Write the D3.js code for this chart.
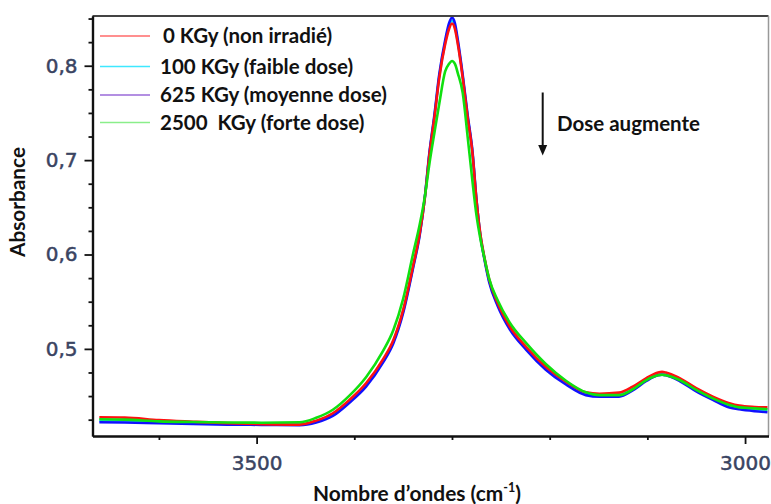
<!DOCTYPE html>
<html><head><meta charset="utf-8">
<script src="https://cdn.jsdelivr.net/npm/d3@7"></script>
<style>html,body{margin:0;padding:0;background:#fff;} svg{display:block;}</style>
</head><body>
<svg id="chart" width="771" height="504"></svg>
<script>
// ---- data ----
const wavenumbers = [3661,3635,3600,3565,3530,3495,3456,3439,3422,3405,3388,3371,3360,3350,3340,3333,3328,3323,3318,3313,3307,3303,3300,3297,3294,3289,3284,3279,3275,3271,3267,3262,3253,3241,3224,3204,3183,3163,3149,3129,3115,3101,3089,3085,3081,3067,3050,3033,3016,3006,2990,2977];
const dose0 =    [0.4275,0.4272,0.4245,0.4228,0.4213,0.4203,0.4198,0.4240,0.4318,0.4460,0.4636,0.4883,0.5095,0.5414,0.5873,0.6227,0.6580,0.7068,0.7449,0.7873,0.8227,0.8390,0.8447,0.8390,0.8227,0.7870,0.7449,0.7068,0.6580,0.6220,0.5980,0.5740,0.5480,0.5240,0.5020,0.4810,0.4650,0.4540,0.4525,0.4537,0.4600,0.4690,0.4750,0.4756,0.4750,0.4690,0.4583,0.4494,0.4424,0.4399,0.4385,0.4380];
const dose100 =  [0.4245,0.4242,0.4228,0.4215,0.4205,0.4200,0.4196,0.4232,0.4305,0.4445,0.4620,0.4870,0.5080,0.5400,0.5860,0.6220,0.6585,0.7075,0.7460,0.7890,0.8245,0.8420,0.8480,0.8420,0.8245,0.7885,0.7460,0.7075,0.6585,0.6210,0.5970,0.5725,0.5465,0.5225,0.5005,0.4795,0.4635,0.4525,0.4510,0.4515,0.4580,0.4675,0.4735,0.4740,0.4735,0.4675,0.4565,0.4478,0.4400,0.4380,0.4362,0.4355];
const dose625 =  [0.4222,0.4220,0.4212,0.4205,0.4198,0.4195,0.4192,0.4220,0.4290,0.4430,0.4600,0.4850,0.5060,0.5380,0.5850,0.6210,0.6590,0.7090,0.7480,0.7910,0.8270,0.8450,0.8510,0.8450,0.8270,0.7900,0.7480,0.7090,0.6590,0.6200,0.5960,0.5710,0.5450,0.5210,0.4990,0.4780,0.4620,0.4510,0.4494,0.4494,0.4560,0.4660,0.4720,0.4726,0.4720,0.4660,0.4550,0.4460,0.4380,0.4360,0.4340,0.4329];
const dose2500 = [0.4254,0.4250,0.4232,0.4225,0.4220,0.4218,0.4222,0.4270,0.4355,0.4505,0.4700,0.4970,0.5200,0.5530,0.6000,0.6320,0.6600,0.6970,0.7290,0.7600,0.7940,0.8020,0.8050,0.8020,0.7920,0.7710,0.7250,0.6770,0.6420,0.6170,0.5970,0.5745,0.5510,0.5280,0.5060,0.4840,0.4660,0.4540,0.4510,0.4510,0.4570,0.4670,0.4720,0.4726,0.4720,0.4670,0.4565,0.4475,0.4405,0.4380,0.4370,0.4360];
const seriesNames = ["0 KGy (non irradié)", "100 KGy (faible dose)", "625 KGy (moyenne dose)", "2500  KGy (forte dose)"];
const lineColors = ["#ff1010", "#00e5ff", "#1010ff", "#10e010"];
const legendColors = ["#ff6a6a", "#3ee8ff", "#9a6ad8", "#8aee8a"];
const yTicks = [0.5, 0.6, 0.7, 0.8];
const yTickLabels = ["0,5", "0,6", "0,7", "0,8"];
const yMinorTicks = [0.425, 0.45, 0.475, 0.525, 0.55, 0.575, 0.625, 0.65, 0.675, 0.725, 0.75, 0.775, 0.825, 0.85];
const xTicks = [3500, 3000];
const xTickLabels = ["3500", "3000"];
const xMinorTicks = [3600, 3400, 3300, 3200, 3100];
const annotation = "Dose augmente";
const yTitle = "Absorbance";
const xTitle = "Nombre d\u2019ondes (cm";
const xTitleSup = "-1";

// ---- layout ----
const L = 92.5, R = 768.5, T = 16, B = 436;
const svg = d3.select("#chart");
const x = d3.scaleLinear().domain([3668, 2976]).range([L, R]);
const y = d3.scaleLinear().domain([0.4077, 0.8527]).range([B, T]);

svg.append("defs").append("clipPath").attr("id", "clip")
  .append("rect").attr("x", L).attr("y", T).attr("width", R - L).attr("height", B - T);

// curves (draw order: cyan, blue, red, green)
const series = [dose0, dose100, dose625, dose2500];
const line = d3.line().x((d, i) => x(wavenumbers[i])).y(d => y(d)).curve(d3.curveMonotoneX);
const g = svg.append("g").attr("clip-path", "url(#clip)");
[1, 2, 0, 3].forEach(k => {
  g.append("path").attr("d", line(series[k])).attr("fill", "none")
    .attr("stroke", lineColors[k]).attr("stroke-width", 2.6).attr("stroke-linejoin", "round");
});

// frame
svg.append("line").attr("x1", L).attr("x2", R).attr("y1", T).attr("y2", T).attr("stroke", "#444").attr("stroke-width", 2);
svg.append("line").attr("x1", R).attr("x2", R).attr("y1", T).attr("y2", B).attr("stroke", "#999").attr("stroke-width", 1.5);

// axes
const tickColor = "#3a4462";
const yAxis = svg.append("g").attr("transform", `translate(${L},0)`)
  .call(d3.axisLeft(y).tickValues(yTicks).tickFormat((d, i) => yTickLabels[i]).tickSize(8).tickPadding(7).tickSizeOuter(0));
const yMinor = svg.append("g").attr("transform", `translate(${L},0)`)
  .call(d3.axisLeft(y).tickValues(yMinorTicks).tickFormat("").tickSize(4).tickSizeOuter(0));
const xAxis = svg.append("g").attr("transform", `translate(0,${B})`)
  .call(d3.axisBottom(x).tickValues(xTicks).tickFormat((d, i) => xTickLabels[i]).tickSize(8).tickPadding(12).tickSizeOuter(0));
const xMinor = svg.append("g").attr("transform", `translate(0,${B})`)
  .call(d3.axisBottom(x).tickValues(xMinorTicks).tickFormat("").tickSize(4).tickSizeOuter(0));
[yAxis, yMinor, xAxis, xMinor].forEach(a => {
  a.select(".domain").attr("stroke", "#111").attr("stroke-width", 2.2);
  a.selectAll(".tick line").attr("stroke", "#111").attr("stroke-width", 1.8);
  a.selectAll(".tick text").attr("fill", tickColor).attr("stroke", tickColor).attr("stroke-width", 0.5)
    .attr("font-family", "DejaVu Sans").attr("font-size", 20);
});

// fit helper
function fit(sel, target) {
  const w = sel.node().getComputedTextLength();
  const fs = parseFloat(sel.attr("font-size"));
  sel.attr("font-size", fs * target / w);
  return fs * target / w;
}

// legend
const legY = [36, 66.5, 95, 122.5];
const legX = [163, 160, 160, 160];
const legend = svg.append("g");
const texts = seriesNames.map((name, i) => {
  legend.append("line").attr("x1", 100).attr("x2", 150).attr("y1", legY[i]).attr("y2", legY[i])
    .attr("stroke", legendColors[i]).attr("stroke-width", 1.6);
  return legend.append("text").attr("x", legX[i]).attr("y", legY[i]).attr("dy", "0.35em")
    .attr("font-family", "Lato").attr("font-weight", "bold").attr("font-size", 16)
    .style("white-space", "pre").attr("fill", "#111").text(name);
});
const fsLeg = fit(texts[2], 227);
texts.forEach(t => t.attr("font-size", fsLeg));

// annotation arrow
svg.append("line").attr("x1", 542.7).attr("x2", 542.7).attr("y1", 92.5).attr("y2", 146)
  .attr("stroke", "#111").attr("stroke-width", 2);
svg.append("path").attr("d", "M538.2,145 L547.2,145 L542.7,155.5 Z").attr("fill", "#111");
const ann = svg.append("text").attr("x", 557).attr("y", 123.5).attr("dy", "0.35em")
  .attr("font-family", "Lato").attr("font-weight", "bold").attr("font-size", 16).attr("fill", "#111").text(annotation);
fit(ann, 143);

// axis titles
const yt = svg.append("text").attr("transform", "translate(18,202) rotate(-90)")
  .attr("text-anchor", "middle").attr("dy", "0.35em")
  .attr("font-family", "Lato").attr("font-weight", "bold").attr("font-size", 16).attr("fill", "#111").text(yTitle);
fit(yt, 110);
const xt = svg.append("text").attr("x", 417).attr("y", 494).attr("dy", "0.35em").attr("text-anchor", "middle")
  .attr("font-family", "Lato").attr("font-weight", "bold").attr("font-size", 16).attr("fill", "#111");
xt.append("tspan").text(xTitle);
xt.append("tspan").attr("font-size", "0.6em").attr("dy", "-0.75em").text(xTitleSup);
xt.append("tspan").attr("dy", "0.45em").text(")");
fit(xt, 208);
</script>
</body></html>
